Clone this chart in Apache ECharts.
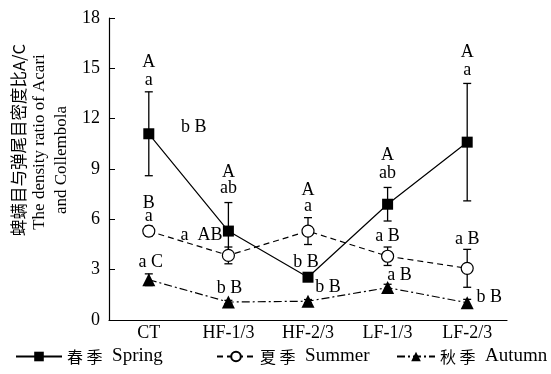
<!DOCTYPE html>
<html><head><meta charset="utf-8">
<script src="https://cdn.jsdelivr.net/npm/echarts@6/dist/echarts.min.js"></script>
<style>html,body{margin:0;padding:0;background:#fff}#c{width:551px;height:374px}</style>
</head><body><div id="c"></div>
<script>
var categories = ['CT', 'HF-1/3', 'HF-2/3', 'LF-1/3', 'LF-2/3'];
var yTicks = [0, 3, 6, 9, 12, 15, 18];
var spring = [11.1, 5.3, 2.55, 6.9, 10.6];
var springErr = [2.5, 1.7, 0.15, 1.0, 3.5];
var summer = [5.3, 3.85, 5.3, 3.8, 3.08];
var summerErr = [0.3, 0.5, 0.8, 0.55, 1.13];
var autumn = [2.4, 1.07, 1.12, 1.93, 1.03];
var autumnErr = [0.35, 0.1, 0.1, 0.2, 0.2];
// letter annotations: [category index, y value, text, pixel x-offset]
var letters = [
  [0, 15.37, 'A', 0], [0, 14.3, 'a', 0], [0, 11.5, 'b B', 45],
  [0, 6.97, 'B', 0], [0, 6.2, 'a', 0], [0, 3.46, 'a C', 2],
  [1, 8.82, 'A', 0], [1, 7.87, 'ab', 0], [1, 5.07, 'a  AB', -27], [1, 1.9, 'b B', 1],
  [2, 7.75, 'A', 0], [2, 6.8, 'a', 0], [2, 3.46, 'b B', -2], [2, 1.97, 'b B', 20],
  [3, 9.83, 'A', 0], [3, 8.76, 'ab', 0], [3, 5.0, 'a B', 0], [3, 2.68, 'a B', 12],
  [4, 15.97, 'A', 0], [4, 14.9, 'a', 0], [4, 4.83, 'a B', 0], [4, 1.37, 'b B', 22]
];
var seriesNames = ['春季 Spring', '夏季 Summer', '秋季 Autumn'];
var yNameLines = ['蜱螨目与弹尾目密度比A/C', 'The density ratio of Acari', 'and Collembola'];

var serif = '"Liberation Serif", "Noto Sans CJK SC", serif';
function errData(vals, errs) { return vals.map(function (v, i) { return [i, v, errs[i]]; }); }
function errSeries(vals, errs) {
  return {
    type: 'custom', silent: true, z: 1,
    data: errData(vals, errs),
    renderItem: function (params, api) {
      var x = api.value(0), m = api.value(1), e = api.value(2);
      var top = api.coord([x, m + e]), bot = api.coord([x, m - e]);
      var w = 4;
      var st = { stroke: '#000', lineWidth: 1.3 };
      return { type: 'group', children: [
        { type: 'line', shape: { x1: top[0], y1: top[1], x2: bot[0], y2: bot[1] }, style: st },
        { type: 'line', shape: { x1: top[0] - w, y1: top[1], x2: top[0] + w, y2: top[1] }, style: st },
        { type: 'line', shape: { x1: bot[0] - w, y1: bot[1], x2: bot[0] + w, y2: bot[1] }, style: st }
      ]};
    }
  };
}
function spaced(name) {
  var parts = name.split(' ');
  return '{c|' + parts[0].split('').join(' ') + '}  ' + parts[1];
}
function legendFor(name, left, width) {
  return {
    data: [name], left: left, top: 347, padding: 0, itemWidth: width, itemHeight: 12, itemGap: 0,
    formatter: spaced,
    textStyle: { fontFamily: serif, fontSize: 19, color: '#000',
      rich: { c: { fontFamily: '"Noto Sans CJK SC"', fontSize: 16, color: '#000' } } }
  };
}

var chart = echarts.init(document.getElementById('c'));
chart.setOption({
  animation: false,
  grid: { left: 109, right: 44, top: 18, bottom: 54 },
  legend: [legendFor(seriesNames[0], 15, 46), legendFor(seriesNames[1], 216, 38), legendFor(seriesNames[2], 396, 38)],
  xAxis: [{
    type: 'category', data: categories, boundaryGap: true,
    axisLine: { lineStyle: { color: '#000', width: 1.2 } },
    axisTick: { inside: true, length: 6, alignWithLabel: true, lineStyle: { color: '#000' } },
    axisLabel: { fontFamily: serif, fontSize: 18, color: '#000', margin: 4 }
  }, {
    type: 'category', data: categories, boundaryGap: true, position: 'bottom',
    axisLine: { show: false },
    axisTick: { inside: true, length: 3, lineStyle: { color: '#000' } },
    axisLabel: { show: false }
  }],
  yAxis: {
    type: 'value', min: 0, max: 18, interval: 3,
    axisLine: { show: true, lineStyle: { color: '#000', width: 1.2 } },
    axisTick: { show: true, inside: true, length: 6, lineStyle: { color: '#000' } },
    axisLabel: { fontFamily: serif, fontSize: 18, color: '#000', margin: 9,
      formatter: function (v) { return yTicks.indexOf(v) >= 0 ? String(v) : ''; } },
    splitLine: { show: false }
  },
  graphic: [
    { type: 'text', x: 19, y: 140, rotation: Math.PI / 2, style: { text: yNameLines[0], font: '16.5px "Noto Sans CJK SC"', fill: '#000', align: 'center', verticalAlign: 'middle' } },
    { type: 'text', x: 40, y: 142, rotation: Math.PI / 2, style: { text: yNameLines[1], font: '17px "Liberation Serif"', fill: '#000', align: 'center', verticalAlign: 'middle' } },
    { type: 'text', x: 62, y: 160, rotation: Math.PI / 2, style: { text: yNameLines[2], font: '17px "Liberation Serif"', fill: '#000', align: 'center', verticalAlign: 'middle' } }
  ],
  series: [
    errSeries(spring, springErr),
    errSeries(summer, summerErr),
    errSeries(autumn, autumnErr),
    { name: seriesNames[0], type: 'line', data: spring, z: 3, symbol: 'rect', symbolSize: 11,
      itemStyle: { color: '#000' }, lineStyle: { color: '#000', width: 1.2, type: 'solid' } },
    { name: seriesNames[1], type: 'line', data: summer, z: 3, symbol: 'circle', symbolSize: 12,
      itemStyle: { color: '#fff', borderColor: '#000', borderWidth: 1.2 },
      lineStyle: { color: '#000', width: 1.2, type: [6, 4] } },
    { name: seriesNames[2], type: 'line', data: autumn, z: 3, symbol: 'triangle', symbolSize: 13,
      itemStyle: { color: '#000' }, lineStyle: { color: '#000', width: 1.2, type: [8, 3, 2, 3] } },
    { type: 'custom', silent: true, z: 5, data: letters,
      renderItem: function (params, api) {
        var p = api.coord([api.value(0), api.value(1)]);
        var d = letters[params.dataIndex];
        return { type: 'text', x: p[0] + d[3], y: p[1],
          style: { text: d[2], font: '18px "Liberation Serif"', fill: '#000', align: 'center', verticalAlign: 'middle' } };
      }
    }
  ]
});
</script></body></html>
